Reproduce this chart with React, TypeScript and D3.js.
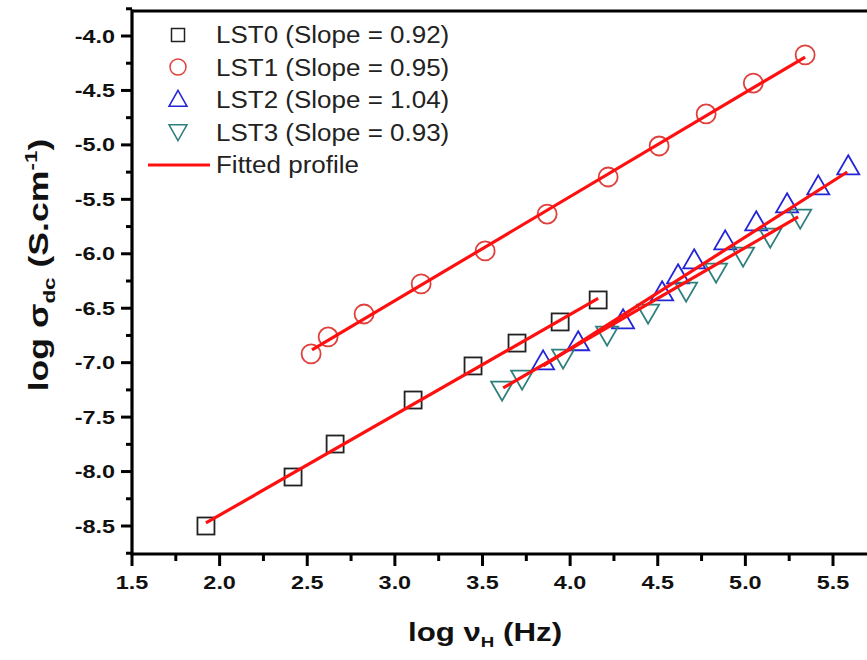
import React from "react";
import * as d3 from "d3";

// ---- data ----
const lst0X = [1.922, 2.419, 2.659, 3.104, 3.446, 3.697, 3.943, 4.16];
const lst0Y = [-8.5, -8.05, -7.747, -7.343, -7.03, -6.82, -6.626, -6.424];

const lst1X = [2.522, 2.619, 2.824, 3.15, 3.515, 3.869, 4.217, 4.508, 4.776, 5.045, 5.341];
const lst1Y = [-6.92, -6.764, -6.553, -6.277, -5.974, -5.635, -5.295, -5.01, -4.716, -4.432, -4.174];

const lst2X = [3.846, 4.046, 4.302, 4.525, 4.616, 4.708, 4.885, 5.062, 5.238, 5.416, 5.587];
const lst2Y = [-7.003, -6.828, -6.626, -6.369, -6.213, -6.075, -5.901, -5.726, -5.561, -5.396, -5.212];

const lst3X = [3.612, 3.726, 3.96, 4.211, 4.445, 4.662, 4.833, 4.987, 5.142, 5.313];
const lst3Y = [-7.232, -7.131, -6.938, -6.727, -6.525, -6.323, -6.149, -6.002, -5.827, -5.653];

// fitted profile end points [start, end]
const fit0X = [1.922, 4.16];
const fit0Y = [-8.472, -6.41];
const fit1X = [2.527, 5.341];
const fit1Y = [-6.883, -4.193];
const fit2X = [3.846, 5.581];
const fit2Y = [-7.03, -5.249];
const fit3X = [3.618, 5.301];
const fit3Y = [-7.232, -5.662];

const xMajorTicks = [1.5, 2.0, 2.5, 3.0, 3.5, 4.0, 4.5, 5.0, 5.5];
const xMinorTicks = [1.75, 2.25, 2.75, 3.25, 3.75, 4.25, 4.75, 5.25, 5.75];
const yMajorTicks = [-4.0, -4.5, -5.0, -5.5, -6.0, -6.5, -7.0, -7.5, -8.0, -8.5];
const yMinorTicks = [-3.75, -4.25, -4.75, -5.25, -5.75, -6.25, -6.75, -7.25, -7.75, -8.25, -8.75];

const legendLabels = [
  "LST0 (Slope = 0.92)",
  "LST1 (Slope = 0.95)",
  "LST2 (Slope = 1.04)",
  "LST3 (Slope = 0.93)",
  "Fitted profile",
];

const C_SQ = "#222222";
const C_CIR = "#e0403c";
const C_UP = "#2424d8";
const C_DN = "#2f7f7c";
const C_FIT = "#ff1010";
const FONT = "'Liberation Sans', Arial, Helvetica, sans-serif";

const W = 867;
const H = 660;
const left = 132;
const top = 11;
const bottom = 554;
const right = 905;

const x = d3.scaleLinear().domain([1.5, 5.5]).range([132, 833]);
const y = d3.scaleLinear().domain([-4, -8.5]).range([36, 526]);

function upTri(cx: number, cy: number, w: number, h: number) {
  return `M${cx},${cy - (2 * h) / 3}L${cx + w / 2},${cy + h / 3}L${cx - w / 2},${cy + h / 3}Z`;
}
function downTri(cx: number, cy: number, w: number, h: number) {
  return `M${cx},${cy + (2 * h) / 3}L${cx + w / 2},${cy - h / 3}L${cx - w / 2},${cy - h / 3}Z`;
}

export default function App() {
  const line = d3
    .line<[number, number]>()
    .x((d) => x(d[0]))
    .y((d) => y(d[1]));
  const fits = [
    [fit0X, fit0Y],
    [fit1X, fit1Y],
    [fit2X, fit2Y],
    [fit3X, fit3Y],
  ];
  const sq = 17;
  return (
    <svg
      width={W}
      height={H}
      style={{ position: "absolute", left: 0, top: 0, background: "#fff" }}
      fontFamily={FONT}
    >
      <rect x={0} y={0} width={W} height={H} fill="#fff" />
      {/* markers */}
      <g fill="none" strokeWidth={1.8}>
        {lst0X.map((v, i) => (
          <rect key={"s" + i} x={x(v) - sq / 2} y={y(lst0Y[i]) - sq / 2} width={sq} height={sq} stroke={C_SQ} />
        ))}
        {lst1X.map((v, i) => (
          <circle key={"c" + i} cx={x(v)} cy={y(lst1Y[i])} r={9.5} stroke={C_CIR} />
        ))}
        {lst2X.map((v, i) => (
          <path key={"u" + i} d={upTri(x(v), y(lst2Y[i]), 22, 19)} stroke={C_UP} />
        ))}
        {lst3X.map((v, i) => (
          <path key={"d" + i} d={downTri(x(v), y(lst3Y[i]), 22, 19)} stroke={C_DN} />
        ))}
      </g>
      {/* fitted lines */}
      <g fill="none" stroke={C_FIT} strokeWidth={3.2}>
        {fits.map(([fx, fy], i) => (
          <path key={"f" + i} d={line(fx.map((v, j) => [v, fy[j]]) as [number, number][]) || ""} />
        ))}
      </g>
      {/* axes frame */}
      <g stroke="#000" strokeWidth={3.2} fill="none">
        <line x1={left} y1={top} x2={right} y2={top} />
        <line x1={left} y1={top - 1.6} x2={left} y2={bottom + 1.6} />
        <line x1={left} y1={bottom} x2={right} y2={bottom} />
      </g>
      {/* ticks */}
      <g stroke="#000" strokeWidth={3}>
        {xMajorTicks.map((t) => (
          <line key={"xm" + t} x1={x(t)} x2={x(t)} y1={bottom} y2={bottom + 12} />
        ))}
        {xMinorTicks.map((t) => (
          <line key={"xn" + t} x1={x(t)} x2={x(t)} y1={bottom} y2={bottom + 7} />
        ))}
        {yMajorTicks.map((t) => (
          <line key={"ym" + t} x1={left} x2={left - 11} y1={y(t)} y2={y(t)} />
        ))}
        {yMinorTicks.map((t) => (
          <line key={"yn" + t} x1={left} x2={left - 6} y1={y(t)} y2={y(t)} />
        ))}
      </g>
      {/* tick labels */}
      <g fontWeight="bold" fontSize={18} fill="#111">
        {xMajorTicks.map((t) => (
          <text
            key={"xl" + t}
            textAnchor="middle"
            transform={`translate(${x(t)},${589}) scale(1.3,1)`}
          >
            {d3.format(".1f")(t)}
          </text>
        ))}
        {yMajorTicks.map((t) => (
          <text
            key={"yl" + t}
            textAnchor="end"
            transform={`translate(${115},${y(t) + 6.5}) scale(1.3,1)`}
          >
            {d3.format(".1f")(t).replace("−", "-")}
          </text>
        ))}
      </g>
      {/* axis titles */}
      <text
        fontWeight="bold"
        fontSize={25}
        fill="#111"
        textAnchor="middle"
        transform={`translate(485,641) scale(1.25,1)`}
      >
        log ν
        <tspan fontSize={15} dy={6}>H</tspan>
        <tspan dy={-6}> (Hz)</tspan>
      </text>
      <text
        fontWeight="bold"
        fontSize={27}
        fill="#111"
        textAnchor="middle"
        transform={`translate(48,265) rotate(-90) scale(1.32,1)`}
      >
        log σ
        <tspan fontSize={17} dy={7}>dc</tspan>
        <tspan dy={-7}> (S.cm</tspan>
        <tspan fontSize={17} dy={-11}>-1</tspan>
        <tspan dy={11}>)</tspan>
      </text>
      {/* legend */}
      <g>
        <rect x={178 - 6.5} y={35 - 6.5} width={13} height={13} fill="none" stroke={C_SQ} strokeWidth={1.5} />
        <circle cx={178} cy={67} r={8} fill="none" stroke={C_CIR} strokeWidth={1.5} />
        <path d={upTri(178, 101, 18, 16)} fill="none" stroke={C_UP} strokeWidth={1.5} />
        <path d={downTri(178, 130, 18, 16)} fill="none" stroke={C_DN} strokeWidth={1.5} />
        <line x1={148} x2={210} y1={165} y2={165} stroke={C_FIT} strokeWidth={3} />
        {legendLabels.map((s, i) => (
          <text
            key={"lg" + i}
            fontSize={23}
            fill="#222"
            transform={`translate(216,${35 + i * 32.5 + 8}) scale(1.13,1)`}
          >
            {s}
          </text>
        ))}
      </g>
    </svg>
  );
}
